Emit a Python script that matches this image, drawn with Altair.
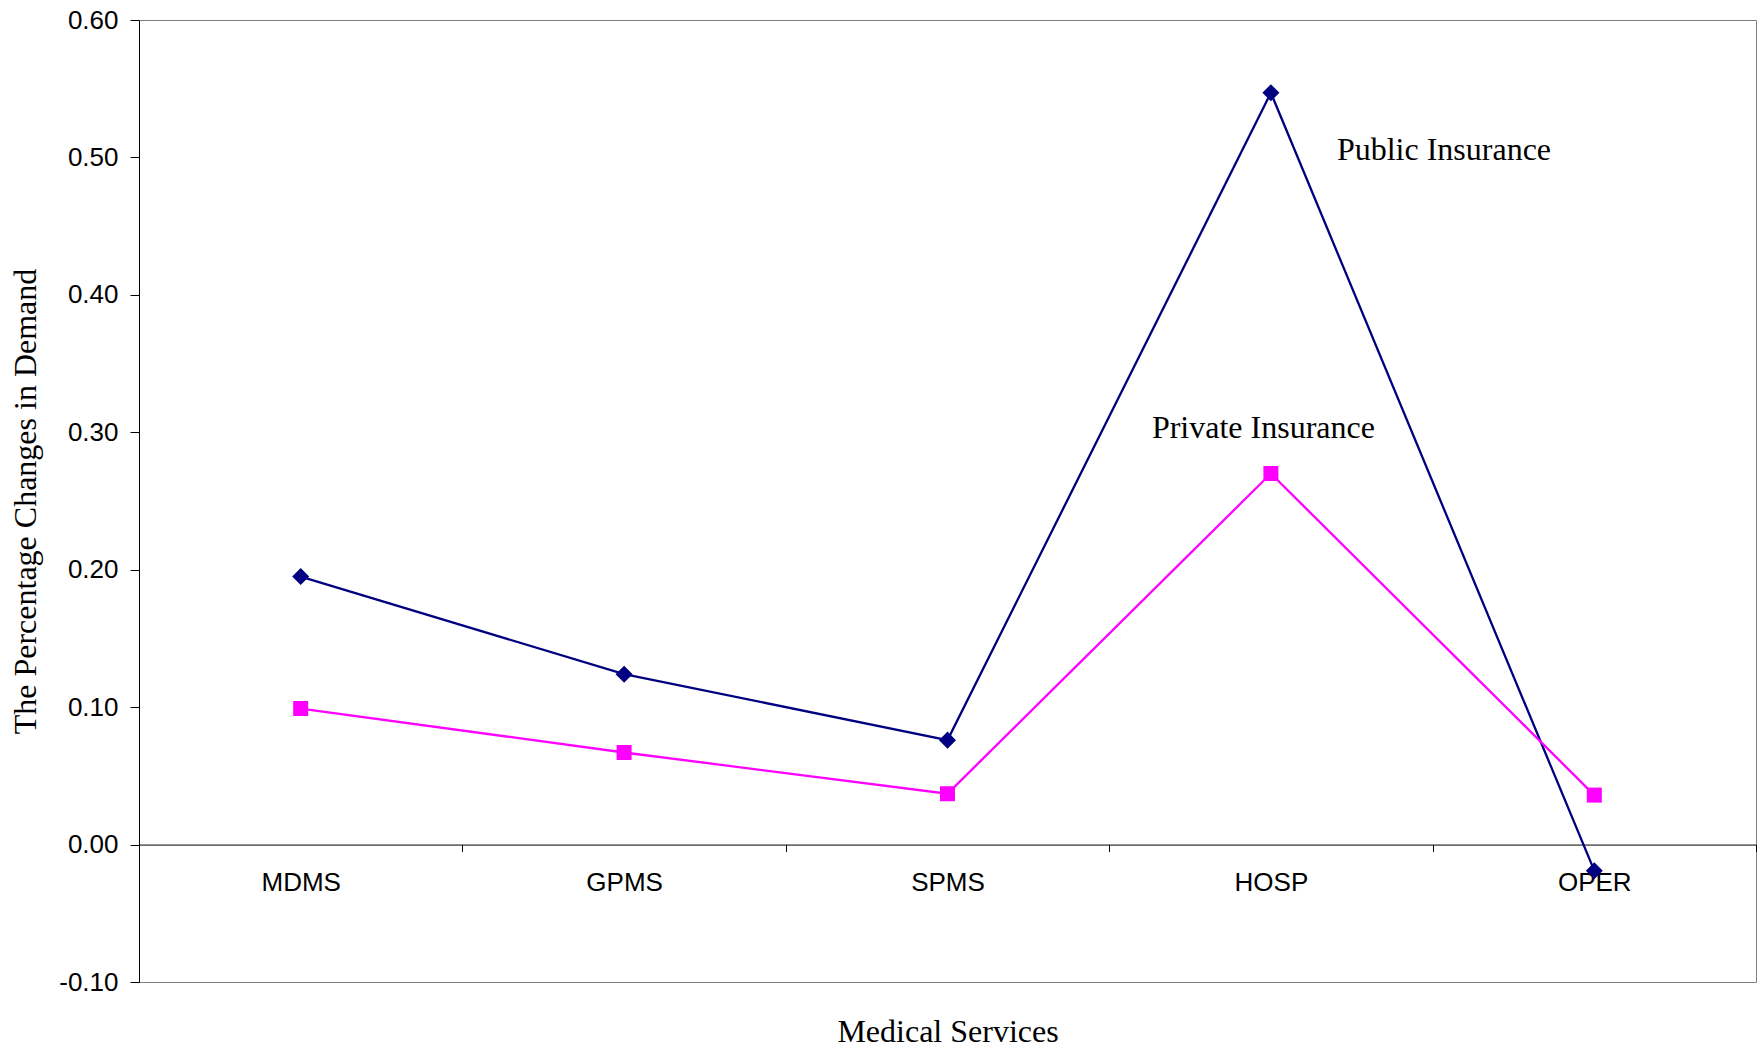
import altair as alt
import pandas as pd

# Medical service categories and the percentage change in demand per insurance type
services = ["MDMS", "GPMS", "SPMS", "HOSP", "OPER"]
public_insurance = [0.195, 0.124, 0.076, 0.547, -0.019]
private_insurance = [0.099, 0.067, 0.037, 0.270, 0.036]
series_names = ["Public Insurance", "Private Insurance"]
series_colors = ["#000080", "#FF00FF"]
series_shapes = ["diamond", "square"]
series_marker_sizes = [290, 225]
y_ticks = [-0.10, 0.00, 0.10, 0.20, 0.30, 0.40, 0.50, 0.60]

# Series labels written beside the HOSP peak
label_text = ["Public Insurance", "Private Insurance"]
label_service = ["HOSP", "HOSP"]
label_value = [0.498, 0.2955]

rows = []
for name, vals in zip(series_names, [public_insurance, private_insurance]):
    for s, v in zip(services, vals):
        rows.append({"series": name, "service": s, "value": v})
df = pd.DataFrame(rows)

labels_df = pd.DataFrame(
    {"text": label_text, "service": label_service, "value": label_value}
)

W, H = 1617, 962
Y_MIN, Y_MAX = -0.10, 0.60
# the category axis sits on the zero line
zero_offset = -H * (0 - Y_MIN) / (Y_MAX - Y_MIN)

SANS = "Liberation Sans"
SERIF = "Liberation Serif"
SERIF_SIZE = 32

x_scale = alt.Scale(type="band", domain=services, paddingInner=0, paddingOuter=0)
y_scale = alt.Scale(domain=[Y_MIN, Y_MAX], nice=False, zero=False)

x_axis = alt.Axis(
    title="Medical Services",
    titleFont=SERIF,
    titleFontSize=SERIF_SIZE,
    titleFontWeight="normal",
    titleColor="black",
    titleY=197,
    titleBaseline="alphabetic",
    labelFont=SANS,
    labelFontSize=26,
    labelColor="black",
    labelAngle=0,
    labelPadding=18,
    tickBand="extent",
    tickSize=7,
    tickColor="black",
    domainColor="black",
    offset=zero_offset,
    grid=False,
)

y_axis = alt.Axis(
    title="The Percentage Changes in Demand",
    titleFont=SERIF,
    titleFontSize=SERIF_SIZE,
    titleFontWeight="normal",
    titleColor="black",
    titleAngle=270,
    titleX=-104,
    titleY=H / 2,
    titleAlign="center",
    titleBaseline="alphabetic",
    values=y_ticks,
    labelExpr="datum.value < -1e-9 ? '-' + format(-datum.value, '.2f') : format(abs(datum.value), '.2f')",
    labelFont=SANS,
    labelFontSize=26,
    labelColor="black",
    labelPadding=12,
    tickSize=9,
    tickColor="black",
    domainColor="black",
    grid=False,
)

color = alt.Color(
    "series:N",
    scale=alt.Scale(domain=series_names, range=series_colors),
    legend=None,
)
shape = alt.Shape(
    "series:N",
    scale=alt.Scale(domain=series_names, range=series_shapes),
    legend=None,
)
size = alt.Size(
    "series:N",
    scale=alt.Scale(type="ordinal", domain=series_names, range=series_marker_sizes),
    legend=None,
)

base = alt.Chart(df).encode(
    x=alt.X("service:N", sort=services, scale=x_scale, axis=x_axis),
    y=alt.Y("value:Q", scale=y_scale, axis=y_axis),
    color=color,
)

lines = base.mark_line(strokeWidth=2.3, clip=False).encode(detail="series:N")

points = base.mark_point(filled=True, opacity=1, clip=False).encode(
    shape=shape, size=size
)

public_label = (
    alt.Chart(labels_df.iloc[[0]])
    .mark_text(
        font=SERIF, fontSize=SERIF_SIZE, color="black", align="left",
        baseline="alphabetic", dx=66,
    )
    .encode(x=alt.X("service:N", scale=x_scale), y=alt.Y("value:Q", scale=y_scale), text="text:N")
)

private_label = (
    alt.Chart(labels_df.iloc[[1]])
    .mark_text(
        font=SERIF, fontSize=SERIF_SIZE, color="black", align="left",
        baseline="alphabetic", dx=-119,
    )
    .encode(x=alt.X("service:N", scale=x_scale), y=alt.Y("value:Q", scale=y_scale), text="text:N")
)

chart = (
    alt.layer(lines, points, public_label, private_label)
    .properties(
        width=W,
        height=H,
        autosize=alt.AutoSizeParams(type="none"),
        padding={"left": 139, "top": 20, "right": 1, "bottom": 68},
        background="white",
    )
    .configure_view(stroke="#808080", strokeWidth=1)
)

chart.save("out.html", embed_options={"renderer": "svg", "actions": False})
